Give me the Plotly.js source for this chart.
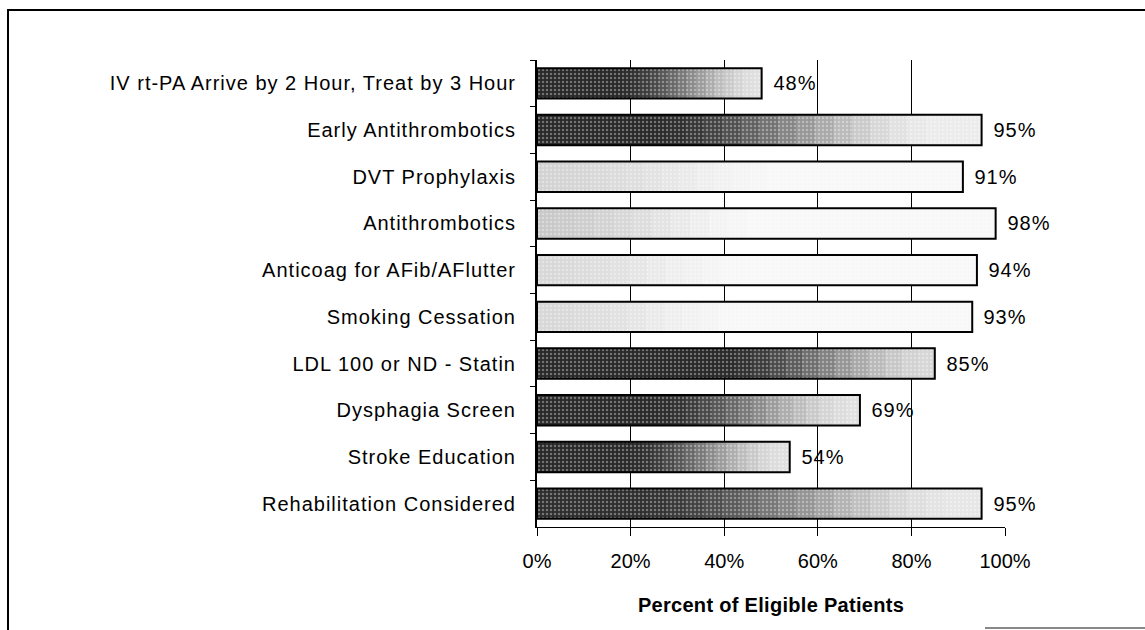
<!DOCTYPE html>
<html>
<head>
<meta charset="utf-8">
<script src="https://cdn.plot.ly/plotly-3.0.1.min.js"></script>
<style>
  html, body { margin: 0; padding: 0; background: #fff; }
  #wrap { position: relative; width: 1145px; height: 630px; }
  #chart { position: absolute; left: 0; top: 0; width: 1145px; height: 630px; }
  #frame { position: absolute; left: 7px; top: 9px; width: 1160px; height: 640px;
           border-left: 2px solid #000; border-top: 2px solid #000; pointer-events: none; }
  #bottomline { position: absolute; left: 985px; top: 627px; width: 160px; height: 0;
           border-top: 2px solid #888; pointer-events: none; }
  #chart .ytick text { letter-spacing: 1px; }
  #chart .annotation-text { letter-spacing: 1px; }
  #chart .xtitle { letter-spacing: 0.3px; }
</style>
</head>
<body>
<div id="wrap">
  <div id="chart"></div>
  <div id="frame"></div>
  <div id="bottomline"></div>
</div>
<script>
// ---- data ----
const categories = [
  "IV rt-PA Arrive by 2 Hour, Treat by 3 Hour",
  "Early Antithrombotics",
  "DVT Prophylaxis",
  "Antithrombotics",
  "Anticoag for AFib/AFlutter",
  "Smoking Cessation",
  "LDL 100 or ND - Statin",
  "Dysphagia Screen",
  "Stroke Education",
  "Rehabilitation Considered"
];
const values = [48, 95, 91, 98, 94, 93, 85, 69, 54, 95];
const xTickVals = [0, 20, 40, 60, 80, 100];
const xTickText = ["0%", "20%", "40%", "60%", "80%", "100%"];
const xTitle = "Percent of Eligible Patients";

// ---- style: per-bar gradient shading (grey levels and where the dark part fades) ----
const shadeLo   = [40, 40, 210, 200, 215, 215, 40, 40, 40, 45];
const shadeHi   = [225, 235, 248, 248, 248, 248, 215, 225, 225, 230];
const fadeStart = [0.35, 0.25, 0.0, 0.0, 0.0, 0.0, 0.45, 0.35, 0.35, 0.20];
const fadeEnd   = [1.00, 0.90, 0.60, 0.50, 0.50, 0.50, 1.00, 1.00, 1.00, 0.95];

const FONT = "Liberation Sans, Arial, sans-serif";
const N = 24;
function smooth(a, b, x) {
  if (b <= a) return x >= b ? 1 : 0;
  const t = Math.max(0, Math.min(1, (x - a) / (b - a)));
  return t * t * (3 - 2 * t);
}
const traces = [];
for (let k = 0; k < N; k++) {
  const fHi = 1 - k / N, fLo = 1 - (k + 1) / N;
  const p = (fHi + fLo) / 2;
  const colors = values.map((v, i) => {
    const L = Math.round(shadeLo[i] + (shadeHi[i] - shadeLo[i]) * smooth(fadeStart[i], fadeEnd[i], p));
    return `rgb(${L},${L},${L})`;
  });
  traces.push({
    type: "bar", orientation: "h",
    y: categories, x: values.map(v => v * fHi),
    width: 0.65,
    marker: { color: colors, line: { width: 0 } },
    hoverinfo: "skip", showlegend: false
  });
}
// speckle texture + outline
traces.push({
  type: "bar", orientation: "h",
  y: categories, x: values, width: 0.65,
  marker: {
    color: "rgba(0,0,0,0)", line: { color: "#000", width: 2 },
    pattern: { shape: ".", fgcolor: "rgba(255,255,255,0.35)", bgcolor: "rgba(0,0,0,0)", size: 4, solidity: 0.3, fillmode: "replace" }
  },
  hovertemplate: "%{y}: %{x}%<extra></extra>", showlegend: false
});

const annotations = values.map((v, i) => ({
  x: v, y: categories[i], xref: "x", yref: "y",
  text: v + "%", showarrow: false, xanchor: "left", xshift: 11,
  font: { family: FONT, size: 20, color: "#000" }
}));

const layout = {
  width: 1145, height: 630,
  margin: { l: 537, r: 140, t: 60, b: 103 },
  paper_bgcolor: "rgba(0,0,0,0)", plot_bgcolor: "rgba(0,0,0,0)",
  barmode: "overlay",
  font: { family: FONT, size: 20, color: "#000" },
  xaxis: {
    range: [0, 100], tickvals: xTickVals, ticktext: xTickText,
    showgrid: true, gridcolor: "#000", gridwidth: 1,
    showline: true, linecolor: "#000", linewidth: 1,
    ticks: "outside", ticklen: 8, tickcolor: "#000", ticklabelstandoff: 8,
    tickfont: { family: FONT, size: 20, color: "#000" },
    zeroline: false, fixedrange: true,
    title: { text: "<b>" + xTitle + "</b>", font: { family: FONT, size: 20, color: "#000" }, standoff: 26 }
  },
  yaxis: {
    autorange: "reversed", type: "category",
    showline: true, linecolor: "#000", linewidth: 2,
    ticks: "outside", tickson: "boundaries", ticklen: 5, tickcolor: "#000",
    ticklabelstandoff: 15,
    tickfont: { family: FONT, size: 20, color: "#000" },
    showgrid: false, fixedrange: true
  },
  annotations: annotations
};

Plotly.newPlot("chart", traces, layout, { displayModeBar: false, staticPlot: true });
</script>
</body>
</html>
